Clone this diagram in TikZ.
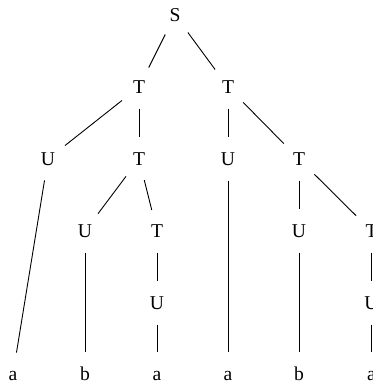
\documentclass[tikz,border=0pt]{standalone}
\usepackage{fontspec}
\setmainfont{Liberation Serif}
\begin{document}
\begin{tikzpicture}[x=1pt,y=-1pt,
  sym/.style={circle,minimum size=43pt,inner sep=0pt,
    text height=13pt,text depth=0pt,
    font=\fontsize{19.6pt}{23pt}\selectfont},
  branch/.style={line width=0.9pt}]
\clip (0,0) rectangle (373,384);
% rows
\def\rA{15}\def\rB{87}\def\rC{159}\def\rD{231}\def\rE{303}\def\rF{374}
% interior symbols
\node[sym] (s)  at (175,\rA) {S};
\node[sym] (t1) at (139,\rB) {T};
\node[sym] (t2) at (228,\rB) {T};
\node[sym] (u1) at (48,\rC)  {U};
\node[sym] (t3) at (139,\rC) {T};
\node[sym] (u4) at (228,\rC) {U};
\node[sym] (t5) at (299,\rC) {T};
\node[sym] (u2) at (85,\rD)  {U};
\node[sym] (t4) at (157,\rD) {T};
\node[sym] (u5) at (299,\rD) {U};
\node[sym] (t6) at (371.5,\rD) {T};
\node[sym] (u3) at (157,\rE) {U};
\node[sym] (u6) at (371.5,\rE) {U};
% leaves
\node[sym] (l1) at (13,\rF)  {a};
\node[sym] (l2) at (85,\rF)  {b};
\node[sym] (l3) at (157,\rF) {a};
\node[sym] (l4) at (228,\rF) {a};
\node[sym] (l5) at (299,\rF) {b};
\node[sym] (l6) at (371.5,\rF) {a};
% branches
\draw[branch] (s) -- (t1);
\draw[branch] (s) -- (t2);
\draw[branch] (t1) -- (u1);
\draw[branch] (t1) -- (t3);
\draw[branch] (u1) -- (l1);
\draw[branch] (t3) -- (u2);
\draw[branch] (t3) -- (t4);
\draw[branch] (u2) -- (l2);
\draw[branch] (t4) -- (u3);
\draw[branch] (u3) -- (l3);
\draw[branch] (t2) -- (u4);
\draw[branch] (t2) -- (t5);
\draw[branch] (u4) -- (l4);
\draw[branch] (t5) -- (u5);
\draw[branch] (t5) -- (t6);
\draw[branch] (u5) -- (l5);
\draw[branch] (t6) -- (u6);
\draw[branch] (u6) -- (l6);
\end{tikzpicture}
\end{document}
